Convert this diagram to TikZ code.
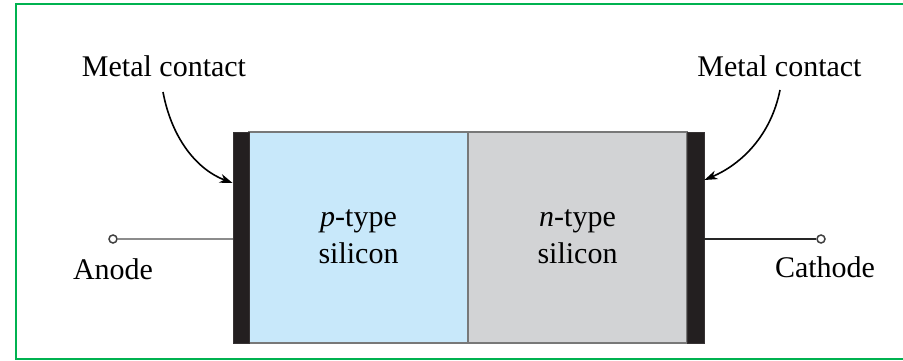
\documentclass[tikz,border=0pt]{standalone}
\usepackage{fontspec}
\setmainfont{Liberation Serif}
\usetikzlibrary{arrows.meta}
\definecolor{frame}{RGB}{0,178,80}
\definecolor{pblue}{RGB}{200,232,250}
\definecolor{ngray}{RGB}{210,211,213}
\definecolor{metal}{RGB}{35,31,32}
\definecolor{edge}{RGB}{120,120,120}
\tikzset{
  lbl/.style={font=\fontsize{30}{37}\selectfont, text=black, inner sep=0pt, anchor=base},
  region/.style={inner sep=0pt, minimum width=219pt, minimum height=211pt, draw=edge, line width=1.8pt},
  metalbar/.style={fill=metal, draw=metal!80!gray, line width=0.8pt, inner sep=0pt, minimum height=211pt},
  term/.style={circle, draw=black!75, line width=1.5pt, fill=white, minimum size=8pt, inner sep=0pt},
  lead/.style={line width=2pt},
  pointer/.style={line width=1.6pt, -{Stealth[length=13pt, width=9pt, inset=4pt]}}
}
\begin{document}
\begin{tikzpicture}[x=1pt, y=-1pt]
\useasboundingbox (0,0) rectangle (903,361);
\clip (0,0) rectangle (903,361);
\draw[frame, line width=2pt] (16,4) rectangle (915,359);
% regions
\node[region, fill=pblue] (p) at (358.5,237.5) {};
\node[region, fill=ngray] (n) at (577.5,237.5) {};
\node[metalbar, minimum width=16pt] (lc) at (241,237.5) {};
\node[metalbar, minimum width=17pt] (rc) at (695.5,237.5) {};
% region labels
\node[lbl, align=center, anchor=center] (ptxt) at (358.5,237) {\textit{p}-type\\silicon};
\node[lbl, align=center, anchor=center] (ntxt) at (577.5,237) {\textit{n}-type\\silicon};
% terminals
\node[term] (an) at (113,239) {};
\node[term] (ca) at (821,239) {};
\draw[lead, draw=black!45] (an) -- (an -| lc.west);
\draw[lead, draw=black!85] (ca) -- (ca -| rc.east);
\node[lbl] (anode) at (113,279) {Anode};
\node[lbl] (cathode) at (825,277) {Cathode};
% metal contact labels
\node[lbl] (mcl) at (164,77) {Metal contact};
\node[lbl] (mcr) at (779.5,77) {Metal contact};
\coordinate (lt) at (lc.west |- 0,183);
\coordinate (rt) at (rc.east |- 0,180);
\draw[pointer] (163,92) .. controls (172,140) and (198,170) .. (lt);
\draw[pointer] (780,90) .. controls (771,135) and (742,164) .. (rt);
\end{tikzpicture}
\end{document}
